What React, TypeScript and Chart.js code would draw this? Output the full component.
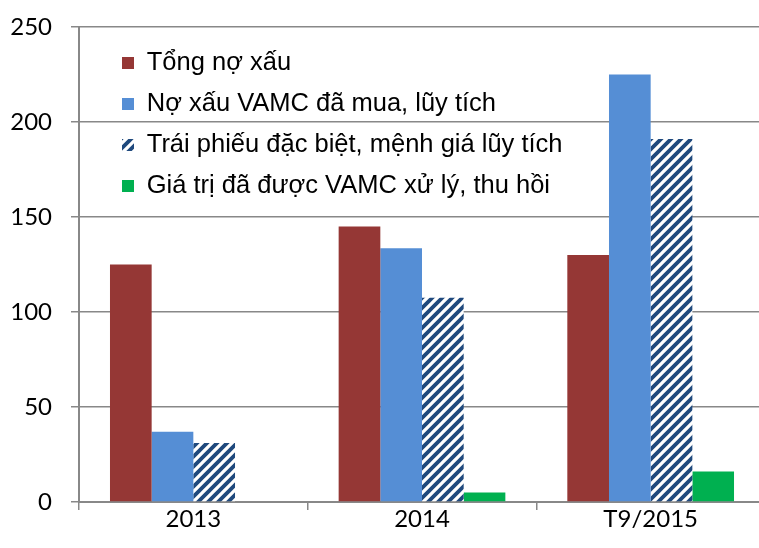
import { useEffect, useRef } from 'react';
import { Chart, registerables } from 'chart.js';

Chart.register(...registerables);

const categories = ['2013', '2014', 'T9/2015'];
const seriesNames = [
  'Tổng nợ xấu',
  'Nợ xấu VAMC đã mua, lũy tích',
  'Trái phiếu đặc biệt, mệnh giá lũy tích',
  'Giá trị đã được VAMC xử lý, thu hồi',
];
const tongNoXau = [125, 145, 130];
const noXauVamcDaMua = [37, 133.5, 225];
const traiPhieuDacBiet = [31, 107.5, 191];
const giaTriDaXuLy: (number | null)[] = [null, 5, 16];
const yMin = 0;
const yMax = 250;
const yStep = 50;

const LEGEND_FONT = 25.5;
const LEGEND_PAD = 15.5;
const LEGEND_X = 122 - LEGEND_PAD;
const LEGEND_Y = 63 - LEGEND_PAD - LEGEND_FONT / 2;

function makeHatch(): CanvasPattern | string {
  const n = 10;
  const c = document.createElement('canvas');
  c.width = n;
  c.height = n;
  const ctx = c.getContext('2d');
  if (!ctx) return '#1F497D';
  ctx.fillStyle = '#ffffff';
  ctx.fillRect(0, 0, n, n);
  ctx.strokeStyle = '#1F497D';
  ctx.lineWidth = 3.8;
  ctx.beginPath();
  ctx.moveTo(-3, n + 3); ctx.lineTo(n + 3, -3);
  ctx.moveTo(-n / 2 - 3, n / 2 + 3); ctx.lineTo(n / 2 + 3, -n / 2 - 3);
  ctx.moveTo(n / 2 - 3, n * 1.5 + 3); ctx.lineTo(n * 1.5 + 3, n / 2 - 3);
  ctx.moveTo(-n - 3, 3); ctx.lineTo(3, -n - 3);
  ctx.moveTo(n - 3, 2 * n + 3); ctx.lineTo(2 * n + 3, n - 3);
  ctx.stroke();
  return ctx.createPattern(c, 'repeat') || '#1F497D';
}

const legendShift = {
  id: 'legendShift',
  afterLayout(chart: any) {
    const lg = chart.legend;
    if (!lg) return;
    const w = lg.width;
    const h = lg.height;
    lg.left = LEGEND_X;
    lg.top = LEGEND_Y;
    lg.right = LEGEND_X + w;
    lg.bottom = LEGEND_Y + h;
  },
};

export default function App() {
  const ref = useRef<HTMLCanvasElement | null>(null);

  useEffect(() => {
    if (!ref.current) return;
    const hatch = makeHatch();
    const axisColor = '#888888';
    const chart = new Chart(ref.current, {
      type: 'bar',
      data: {
        labels: categories,
        datasets: [
          { label: seriesNames[0], data: tongNoXau, backgroundColor: '#953735' },
          { label: seriesNames[1], data: noXauVamcDaMua, backgroundColor: '#558ED5' },
          { label: seriesNames[2], data: traiPhieuDacBiet, backgroundColor: hatch as any },
          { label: seriesNames[3], data: giaTriDaXuLy, backgroundColor: '#00B050' },
        ],
      },
      plugins: [legendShift],
      options: {
        animation: false,
        responsive: true,
        maintainAspectRatio: false,
        layout: { padding: { top: 27, right: 1, left: 0, bottom: 0 } },
        datasets: {
          bar: { barPercentage: 1, categoryPercentage: 0.729 },
        },
        plugins: {
          tooltip: { enabled: false },
          legend: {
            position: 'chartArea' as any,
            align: 'start',
            labels: {
              boxWidth: 12,
              boxHeight: 12,
              padding: LEGEND_PAD,
              color: '#000000',
              font: { family: '"Liberation Sans", Arial, sans-serif', size: LEGEND_FONT },
            },
          },
        },
        scales: {
          x: {
            afterFit: (s: any) => { s.height = 46; },
            grid: {
              display: true,
              drawOnChartArea: false,
              drawTicks: true,
              tickLength: 8,
              color: axisColor,
              lineWidth: 1.5,
              offset: true,
            },
            border: { display: true, color: axisColor, width: 2 },
            ticks: {
              color: '#000000',
              padding: -5,
              font: { family: 'Lato, "Open Sans", sans-serif', size: 24 },
              maxRotation: 0,
            },
          },
          y: {
            min: yMin,
            max: yMax,
            afterFit: (s: any) => {
              s.width = 79;
              s.paddingTop = 0;
              s.paddingBottom = 0;
            },
            grid: {
              display: true,
              drawOnChartArea: true,
              drawTicks: true,
              tickLength: 8,
              color: axisColor,
              lineWidth: 1.5,
            },
            border: { display: true, color: axisColor, width: 2 },
            ticks: {
              stepSize: yStep,
              color: '#000000',
              padding: 19,
              font: { family: 'Lato, "Open Sans", sans-serif', size: 24 },
            },
          },
        },
      },
    });
    return () => chart.destroy();
  }, []);

  return (
    <div style={{ position: 'absolute', left: 0, top: 0, width: 759, height: 548, overflow: 'hidden', background: '#fff' }}>
      <div style={{ position: 'relative', width: 766, height: 548 }}>
        <canvas ref={ref} />
      </div>
    </div>
  );
}
